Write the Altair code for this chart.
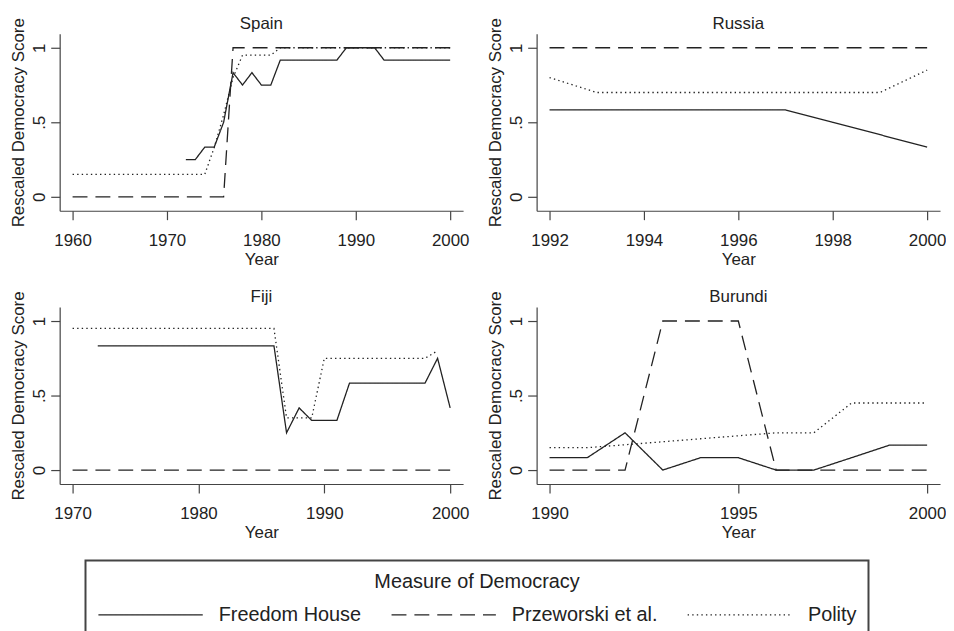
import altair as alt
import pandas as pd

MEASURES = ["Freedom House", "Przeworski et al.", "Polity"]
DASHES = [[1, 0], [15, 8], [1.4, 3.2]]

# ---- Spain ----
spain_fh_start = 1972
spain_fh = [0.25, 0.25, 0.333, 0.333, 0.5, 0.833, 0.75, 0.833, 0.75, 0.75,
            0.917, 0.917, 0.917, 0.917, 0.917, 0.917, 0.917,
            1, 1, 1, 1,
            0.917, 0.917, 0.917, 0.917, 0.917, 0.917, 0.917, 0.917]
spain_prz_start = 1960
spain_prz = [0] * 17 + [1] * 24
spain_pol_start = 1960
spain_pol = [0.15] * 15 + [0.33, 0.55, 0.8] + [0.95] * 4 + [1] * 19

# ---- Russia ----
russia_fh_start = 1992
russia_fh = [0.583, 0.583, 0.583, 0.583, 0.583, 0.583, 0.5, 0.417, 0.333]
russia_prz_start = 1992
russia_prz = [1, 1, 1, 1, 1, 1, 1, 1, 1]
russia_pol_start = 1992
russia_pol = [0.8, 0.7, 0.7, 0.7, 0.7, 0.7, 0.7, 0.7, 0.85]

# ---- Fiji ----
fiji_fh_start = 1972
fiji_fh = [0.833] * 15 + [0.25, 0.417, 0.333, 0.333, 0.333] + [0.583] * 7 + [0.75, 0.417]
fiji_prz_start = 1970
fiji_prz = [0] * 31
fiji_pol_start = 1970
fiji_pol = [0.95] * 17 + [0.35, 0.35, 0.35] + [0.75] * 9 + [0.8]

# ---- Burundi ----
burundi_fh_start = 1990
burundi_fh = [0.083, 0.083, 0.25, 0, 0.083, 0.083, 0, 0, 0.083, 0.167, 0.167]
burundi_prz_start = 1990
burundi_prz = [0, 0, 0, 1, 1, 1, 0, 0, 0, 0, 0]
burundi_pol_start = 1990
burundi_pol = [0.15, 0.15, 0.17, 0.19, 0.21, 0.23, 0.25, 0.25, 0.45, 0.45, 0.45]

spain_ticks = [1960, 1970, 1980, 1990, 2000]
russia_ticks = [1992, 1994, 1996, 1998, 2000]
fiji_ticks = [1970, 1980, 1990, 2000]
burundi_ticks = [1990, 1995, 2000]

rows = []


def add(country, measure, start, values):
    for i, v in enumerate(values):
        rows.append({"country": country, "measure": measure, "year": start + i, "value": v})


add("Spain", "Freedom House", spain_fh_start, spain_fh)
add("Spain", "Przeworski et al.", spain_prz_start, spain_prz)
add("Spain", "Polity", spain_pol_start, spain_pol)
add("Russia", "Freedom House", russia_fh_start, russia_fh)
add("Russia", "Przeworski et al.", russia_prz_start, russia_prz)
add("Russia", "Polity", russia_pol_start, russia_pol)
add("Fiji", "Freedom House", fiji_fh_start, fiji_fh)
add("Fiji", "Przeworski et al.", fiji_prz_start, fiji_prz)
add("Fiji", "Polity", fiji_pol_start, fiji_pol)
add("Burundi", "Freedom House", burundi_fh_start, burundi_fh)
add("Burundi", "Przeworski et al.", burundi_prz_start, burundi_prz)
add("Burundi", "Polity", burundi_pol_start, burundi_pol)

df = pd.DataFrame(rows)

FONT = "Liberation Sans"
INK = "#222222"
W, H = 406, 178


def panel(country, ticks):
    d = df[df["country"] == country]
    return (
        alt.Chart(d)
        .mark_line(strokeWidth=1.3, color=INK)
        .encode(
            x=alt.X(
                "year:Q",
                scale=alt.Scale(domain=[ticks[0], ticks[-1]], nice=False, zero=False, padding=13),
                axis=alt.Axis(values=ticks, format="d", title="Year", labelPadding=13,
                              titlePadding=3),
            ),
            y=alt.Y(
                "value:Q",
                scale=alt.Scale(domain=[0, 1], nice=False, zero=False, padding=14),
                axis=alt.Axis(
                    values=[0, 0.5, 1],
                    labelExpr="datum.value == 0.5 ? '.5' : (datum.value == 1 ? '1' : '0')",
                    labelAngle=270, labelAlign="center", labelBaseline="middle",
                    labelPadding=11,
                    title="Rescaled Democracy Score",
                    titleAngle=270, titleAlign="center", titleBaseline="middle",
                    titleX=-41, titleY=H / 2,
                ),
            ),
            strokeDash=alt.StrokeDash(
                "measure:N",
                scale=alt.Scale(domain=MEASURES, range=DASHES),
                legend=alt.Legend(title="Measure of Democracy"),
            ),
        )
        .properties(
            width=W, height=H,
            title=alt.TitleParams(text=country, fontSize=17, fontWeight="normal",
                                  font=FONT, color=INK, offset=-15.5, frame="group"),
        )
    )


chart = (
    alt.concat(
        panel("Spain", spain_ticks), panel("Russia", russia_ticks),
        panel("Fiji", fiji_ticks), panel("Burundi", burundi_ticks),
        columns=2, spacing={"row": 97, "column": 74}, bounds="flush",
    )
    .properties(padding={"left": 1, "top": 5, "right": 0, "bottom": 0})
    .configure_view(stroke=None)
    .configure_axis(
        grid=False,
        domainColor="#444444", domainWidth=1.2,
        tickColor="#444444", tickWidth=1.2, tickSize=9,
        labelFont=FONT, labelFontSize=17, labelColor=INK,
        titleFont=FONT, titleFontSize=17, titleFontWeight="normal", titleColor=INK,
    )
    .configure_legend(
        orient="none", legendX=26, legendY=530,
        direction="horizontal", columns=3,
        symbolType="stroke", symbolSize=105 * 105, symbolStrokeWidth=1.3,
        symbolStrokeColor=INK,
        labelFont=FONT, labelFontSize=20, labelColor=INK, labelOffset=15, labelLimit=0,
        columnPadding=27,
        titleFont=FONT, titleFontSize=20, titleFontWeight="normal", titleColor=INK,
        titleAnchor="middle", titlePadding=-31, titleLimit=1000,
        strokeColor="#444444", strokeWidth=2, padding=12, fillColor="white",
    )
)

chart.save("out.html", embed_options={"renderer": "svg", "actions": False})
